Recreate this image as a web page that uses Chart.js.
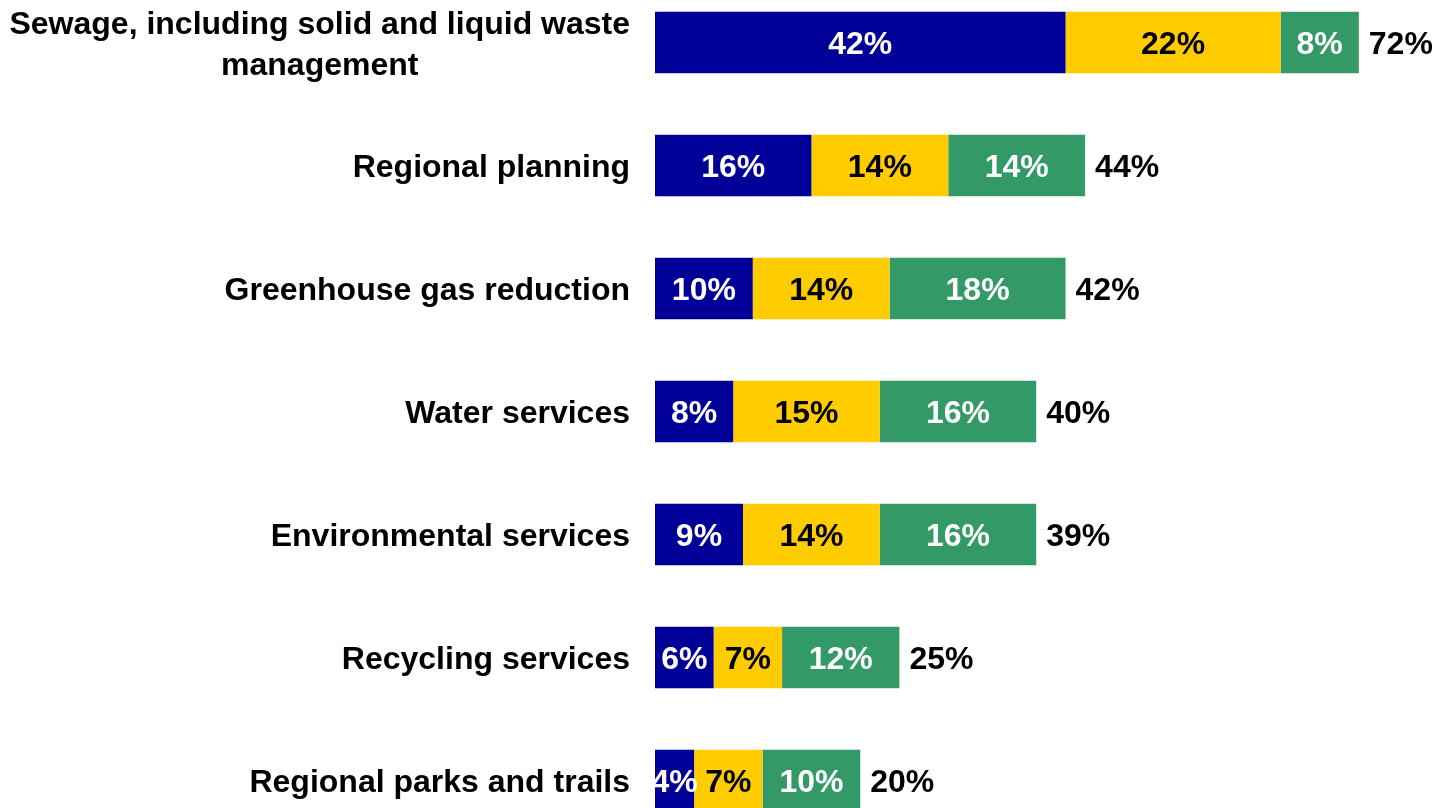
<!DOCTYPE html>
<html>
<head>
<meta charset="utf-8">
<script src="https://cdn.jsdelivr.net/npm/chart.js@4.4.0/dist/chart.umd.min.js"></script>
<style>
  html, body { margin: 0; padding: 0; background: #fff; overflow: hidden; }
  #wrap { position: absolute; left: 0; top: -19px; width: 1437px; height: 861px; }
</style>
</head>
<body>
<div id="wrap"><canvas id="servicesChart"></canvas></div>
<script>
// Servicios regionales - porcentaje por nivel
const categories = [
    ['Sewage, including solid and liquid waste', 'management'],
    'Regional planning',
    'Greenhouse gas reduction',
    'Water services',
    'Environmental services',
    'Recycling services',
    'Regional parks and trails'
];
const levelOne = [42, 16, 10, 8, 9, 6, 4];
const levelTwo = [22, 14, 14, 15, 14, 7, 7];
const levelThree = [8, 14, 18, 16, 16, 12, 10];
const totals = [72, 44, 42, 40, 39, 25, 20];

const FONT = 'bold 32px "Liberation Sans", Arial, Helvetica, sans-serif';
const TEXT_DY = 3;

// etiquetas de categoría a la izquierda + valores dentro de las barras
const barLabels = {
    id: 'barLabels',
    afterDatasetsDraw(chart) {
        const { ctx, chartArea } = chart;
        const yScale = chart.scales.y;
        ctx.save();
        ctx.font = FONT;
        ctx.textBaseline = 'middle';

        // nombres de categoría
        ctx.fillStyle = '#000';
        ctx.textAlign = 'center';
        const right = chartArea.left - 25;
        categories.forEach((cat, i) => {
            const lines = Array.isArray(cat) ? cat : [cat];
            const widest = Math.max(...lines.map(l => ctx.measureText(l).width));
            const cy = yScale.getPixelForValue(i) + TEXT_DY;
            const lh = 41;
            lines.forEach((line, k) => {
                const ly = cy + (k - (lines.length - 1) / 2) * lh;
                ctx.fillText(line, right - widest / 2, ly);
            });
        });

        // valores recortados al área del gráfico
        ctx.beginPath();
        ctx.rect(chartArea.left, 0, chartArea.right - chartArea.left, chart.height);
        ctx.clip();
        chart.data.datasets.forEach((ds, i) => {
            const meta = chart.getDatasetMeta(i);
            ctx.fillStyle = ds.labelColor;
            meta.data.forEach((bar, j) => {
                ctx.fillText(ds.data[j] + '%', (bar.x + bar.base) / 2, bar.y + TEXT_DY);
            });
        });

        // totales
        const last = chart.getDatasetMeta(chart.data.datasets.length - 1);
        ctx.textAlign = 'left';
        ctx.fillStyle = '#000';
        last.data.forEach((bar, j) => {
            ctx.fillText(totals[j] + '%', bar.x + 10, bar.y + TEXT_DY);
        });
        ctx.restore();
    }
};

const ctx = document.getElementById('servicesChart').getContext('2d');
const servicesChart = new Chart(ctx, {
    type: 'bar',
    data: {
        labels: categories,
        datasets: [
            { label: 'Level 1', data: levelOne, backgroundColor: '#000099', labelColor: '#fff' },
            { label: 'Level 2', data: levelTwo, backgroundColor: '#ffcc00', labelColor: '#000' },
            { label: 'Level 3', data: levelThree, backgroundColor: '#339966', labelColor: '#fff' }
        ]
    },
    options: {
        indexAxis: 'y',
        responsive: true,
        maintainAspectRatio: false,
        animation: false,
        layout: { padding: { left: 655, right: 0, top: 0, bottom: 0 } },
        datasets: {
            bar: { categoryPercentage: 1, barPercentage: 0.5, borderWidth: 0 }
        },
        scales: {
            x: { stacked: true, min: 0, max: 80, display: false },
            y: { stacked: true, display: false }
        },
        plugins: {
            legend: { display: false },
            tooltip: { enabled: false }
        }
    },
    plugins: [barLabels]
});
</script>
</body>
</html>
